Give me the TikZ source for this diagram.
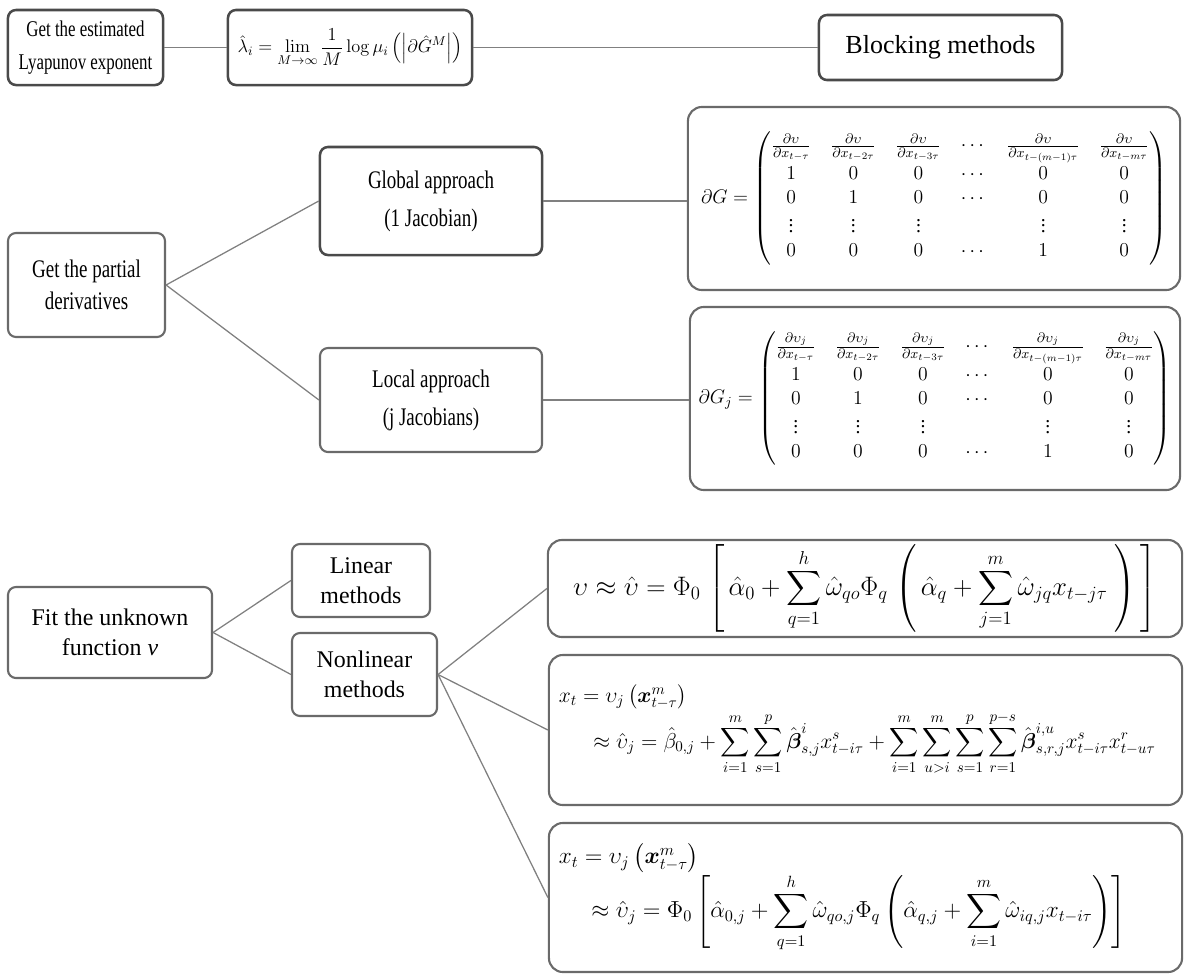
\RequirePackage{fix-cm}
\documentclass[tikz,border=0pt]{standalone}
\usepackage{amsmath}
\usepackage[no-math]{fontspec}
\setmainfont{Liberation Serif}
\newfontfamily\narrowserif[FakeStretch=0.75]{Liberation Serif}

\definecolor{boxgray}{HTML}{6A6A6A}
\definecolor{darkgray}{HTML}{4A4A4A}
\definecolor{linegray}{HTML}{808080}

\newcommand{\jacmat}[1]{%
\begin{pmatrix}
\frac{\partial #1}{\partial x_{t-\tau}} & \frac{\partial #1}{\partial x_{t-2\tau}} & \frac{\partial #1}{\partial x_{t-3\tau}} & \cdots & \frac{\partial #1}{\partial x_{t-(m-1)\tau}} & \frac{\partial #1}{\partial x_{t-m\tau}}\\
1 & 0 & 0 & \cdots & 0 & 0\\
0 & 1 & 0 & \cdots & 0 & 0\\
\vdots & \vdots & \vdots & & \vdots & \vdots\\
0 & 0 & 0 & \cdots & 1 & 0
\end{pmatrix}}

\tikzset{
  box/.style={draw=boxgray, line width=1.5pt, rounded corners=0.2cm, align=center, inner sep=0pt},
  darkbox/.style={box, draw=darkgray, line width=1.8pt},
  bigbox/.style={box, rounded corners=0.35cm},
  label/.style={font=\fontsize{17}{21}\selectfont},
  narrowlabel/.style={font=\narrowserif\fontsize{18}{23}\selectfont},
  matlabel/.style={font=\fontsize{14}{17}\selectfont\setlength{\arraycolsep}{7pt}},
  link/.style={draw=linegray, line width=0.9pt}
}

\begin{document}
\begin{tikzpicture}[x=0.025cm, y=-0.025cm]
\useasboundingbox (0,0) rectangle (1185,976);

\node[darkbox, narrowlabel, font=\narrowserif\fontsize{16}{23}\selectfont, minimum width=3.875cm, minimum height=1.875cm] (est) at (85.5,47.5) {Get the estimated\\Lyapunov exponent};
\node[darkbox, minimum width=6.1cm, minimum height=1.875cm, font=\fontsize{13}{16}\selectfont] (lyap) at (350,47.5) {$\displaystyle \hat{\lambda}_i = \lim_{M\to\infty}\frac{1}{M}\log\mu_i\left(\left|\partial\hat{G}^{M}\right|\right)$};
\node[darkbox, font=\fontsize{18.5}{22}\selectfont, minimum width=6.075cm, minimum height=1.625cm] (block) at (940.5,47.5) {Blocking methods};

\node[box, narrowlabel, minimum width=3.925cm, minimum height=2.6cm] (partial) at (86.5,285) {Get the partial\\derivatives};
\node[darkbox, narrowlabel, minimum width=5.55cm, minimum height=2.7cm] (global) at (431,201) {Global approach\\[4pt](1 Jacobian)};
\node[box, narrowlabel, minimum width=5.55cm, minimum height=2.6cm] (local) at (431,400) {Local approach\\[4pt](j Jacobians)};
\node[bigbox, matlabel, minimum width=12.3cm, minimum height=4.575cm] (matG) at (934,198.5) {$\partial G = \jacmat{\upsilon}$};
\node[bigbox, matlabel, minimum width=12.25cm, minimum height=4.575cm] (matGj) at (935,398.5) {$\partial G_j = \jacmat{\upsilon_j}$};

\node[box, label, minimum width=5.1cm, minimum height=2.275cm] (fit) at (110,632.5) {Fit the unknown\\function \textit{v}};
\node[box, label, minimum width=3.45cm, minimum height=1.825cm] (linear) at (361,580.5) {Linear\\methods};
\node[box, label, minimum width=3.625cm, minimum height=2.075cm] (nonlin) at (364.5,674.5) {Nonlinear\\methods};

\node[bigbox, minimum width=15.85cm, minimum height=2.425cm, font=\fontsize{19}{22}\selectfont] (eqone) at (865,588.5) {$\displaystyle \upsilon \approx \hat{\upsilon} = \Phi_0\;\Bigg[\,\hat{\alpha}_0 + \sum_{q=1}^{h}\hat{\omega}_{qo}\Phi_q\;\Bigg(\,\hat{\alpha}_q + \sum_{j=1}^{m}\hat{\omega}_{jq}x_{t-j\tau}\;\Bigg)\,\Bigg]$};
\node[bigbox, align=left, text width=15.325cm, inner xsep=0.25cm, minimum height=3.75cm, font=\fontsize{15.3}{18}\selectfont] (eqtwo) at (865.5,730) {$x_t = \upsilon_j\left(\boldsymbol{x}^{m}_{t-\tau}\right)$\\
\hspace*{1.6em}$\displaystyle \approx \hat{\upsilon}_j = \hat{\beta}_{0,j} + \sum_{i=1}^{m}\sum_{s=1}^{p}\hat{\boldsymbol{\beta}}^{i}_{s,j}x^{s}_{t-i\tau} + \sum_{i=1}^{m}\sum_{u>i}^{m}\sum_{s=1}^{p}\sum_{r=1}^{p-s}\hat{\boldsymbol{\beta}}^{i,u}_{s,r,j}x^{s}_{t-i\tau}x^{r}_{t-u\tau}$};
\node[bigbox, align=left, text width=15.325cm, inner xsep=0.25cm, minimum height=3.725cm, font=\fontsize{16.5}{19}\selectfont] (eqthree) at (865.5,897.5) {$x_t = \upsilon_j\left(\boldsymbol{x}^{m}_{t-\tau}\right)$\\
\hspace*{1.4em}$\displaystyle \approx \hat{\upsilon}_j = \Phi_0\left[\hat{\alpha}_{0,j} + \sum_{q=1}^{h}\hat{\omega}_{qo,j}\Phi_q\left(\hat{\alpha}_{q,j} + \sum_{i=1}^{m}\hat{\omega}_{iq,j}x_{t-i\tau}\right)\right]$};

\draw[link] (est) -- (lyap);
\draw[link] (lyap) -- (block);
\draw[link] (partial.east) -- (global.west);
\draw[link] (partial.east) -- (local.west);
\draw[link] (global.east) -- (global.east -| matG.west);
\draw[link] (local.east) -- (local.east -| matGj.west);
\draw[link] (fit.east) -- (linear.west);
\draw[link] (fit.east) -- (nonlin.west);
\foreach \eq in {eqone,eqtwo,eqthree}{
	\draw[link] (nonlin.east) -- (\eq.west);
}
\end{tikzpicture}
\end{document}
